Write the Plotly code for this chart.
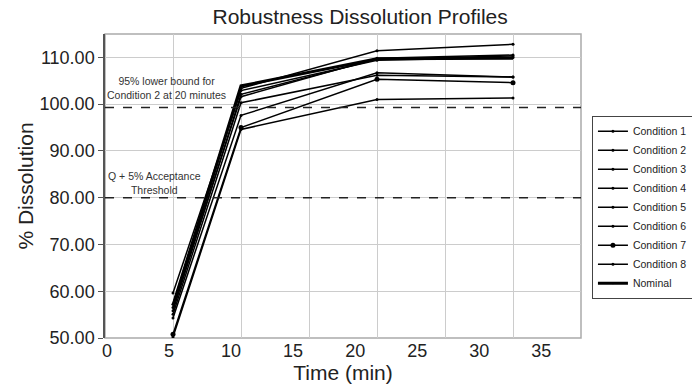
import plotly.graph_objects as go

times = [5, 10, 20, 30]
series_names = ["Condition 1", "Condition 2", "Condition 3", "Condition 4", "Condition 5",
                "Condition 6", "Condition 7", "Condition 8", "Nominal"]
cond1 = [57.2, 103.4, 111.4, 112.8]
cond2 = [50.2, 94.6, 101.0, 101.3]
cond3 = [55.8, 102.1, 109.6, 110.3]
cond4 = [54.3, 97.6, 106.7, 105.8]
cond5 = [59.6, 102.9, 109.4, 110.0]
cond6 = [55.1, 100.3, 106.2, 105.8]
cond7 = [50.8, 95.0, 105.3, 104.6]
cond8 = [56.5, 101.6, 109.8, 110.5]
nominal = [57.0, 103.9, 109.7, 109.8]
series_values = [cond1, cond2, cond3, cond4, cond5, cond6, cond7, cond8, nominal]

lower_bound_c2 = 99.3
q_threshold = 80.0
x_tick_labels = ["0", "5", "10", "15", "20", "25", "30", "35"]
y_tick_vals = [50, 60, 70, 80, 90, 100, 110]

FONT = "Liberation Sans, Arial, sans-serif"
TXT = "#222"

fig = go.Figure()
# invisible trace on the label axis (main x axis)
fig.add_trace(go.Scatter(x=[0], y=[50], xaxis="x", yaxis="y", mode="markers",
                         marker=dict(opacity=0), showlegend=False, hoverinfo="skip"))
for name, vals in zip(series_names, series_values):
    is_nom = name == "Nominal"
    is_c7 = name == "Condition 7"
    fig.add_trace(go.Scatter(
        x=times, y=vals, name=name, mode="lines+markers",
        line=dict(color="black", width=3 if is_nom else 1.5),
        marker=dict(color="black", size=5 if is_c7 else (1 if is_nom else 3)),
        xaxis="x2", yaxis="y",
    ))

fig.add_hline(y=lower_bound_c2, line=dict(color=TXT, width=1.5, dash="dash"))
fig.add_hline(y=q_threshold, line=dict(color=TXT, width=1.5, dash="dash"))

fig.add_annotation(x=4.55, y=103.4, xref="x2", yref="y",
                   text="95% lower bound for<br>Condition 2 at 20 minutes",
                   showarrow=False, align="center", font=dict(size=10.5, color="#333", family=FONT))
fig.add_annotation(x=3.65, y=83.2, xref="x2", yref="y",
                   text="Q + 5% Acceptance<br>Threshold",
                   showarrow=False, align="center", font=dict(size=10.5, color="#333", family=FONT))

fig.add_shape(type="rect", xref="paper", yref="paper", x0=0, x1=1, y0=0, y1=1,
              line=dict(color="#aaa", width=1.5), layer="below")

fig.update_layout(
    width=692, height=386, autosize=False,
    margin=dict(l=105, r=111, t=34, b=48, autoexpand=False),
    paper_bgcolor="white", plot_bgcolor="white",
    font=dict(family=FONT, color=TXT),
    title=dict(text="Robustness Dissolution Profiles", x=0.536, xref="paper",
               y=1 - 17 / 386, yref="container", xanchor="center", yanchor="middle",
               font=dict(size=21, color=TXT, family=FONT)),
    xaxis=dict(range=[-0.16, 38.2], side="bottom",
               tickvals=[int(t) for t in x_tick_labels], ticktext=x_tick_labels,
               showgrid=False, ticks="", zeroline=False, showline=False,
               tickfont=dict(size=18, color=TXT), automargin=False,
               title=dict(text="Time (min)", font=dict(size=21, color=TXT), standoff=2)),
    xaxis2=dict(range=[0, 35], dtick=5, tick0=0, overlaying="x", side="bottom", anchor="y",
                showgrid=True, gridcolor="#ccc", gridwidth=1, showticklabels=False,
                ticks="", showline=False, zeroline=False, automargin=False),
    yaxis=dict(range=[50, 115], tickvals=y_tick_vals, tickformat=".2f",
               showgrid=True, gridcolor="#ccc", gridwidth=1, zeroline=False,
               showline=True, linecolor="#555", linewidth=1.5,
               ticks="outside", ticklen=5, tickcolor="#555",
               tickfont=dict(size=18, color=TXT), automargin=False,
               title=dict(text="% Dissolution", font=dict(size=21, color=TXT), standoff=0)),
    legend=dict(x=1.023, y=0.43, xanchor="left", yanchor="middle",
                bordercolor="#444", borderwidth=1, bgcolor="white",
                font=dict(size=10.5, color=TXT), itemwidth=30, tracegroupgap=0),
    showlegend=True,
)

fig.write_html(
    "out.html",
    config={"displayModeBar": False, "responsive": False},
    post_script="document.body.style.margin='0';document.body.style.padding='0';"
                "document.body.style.overflow='hidden';",
)
